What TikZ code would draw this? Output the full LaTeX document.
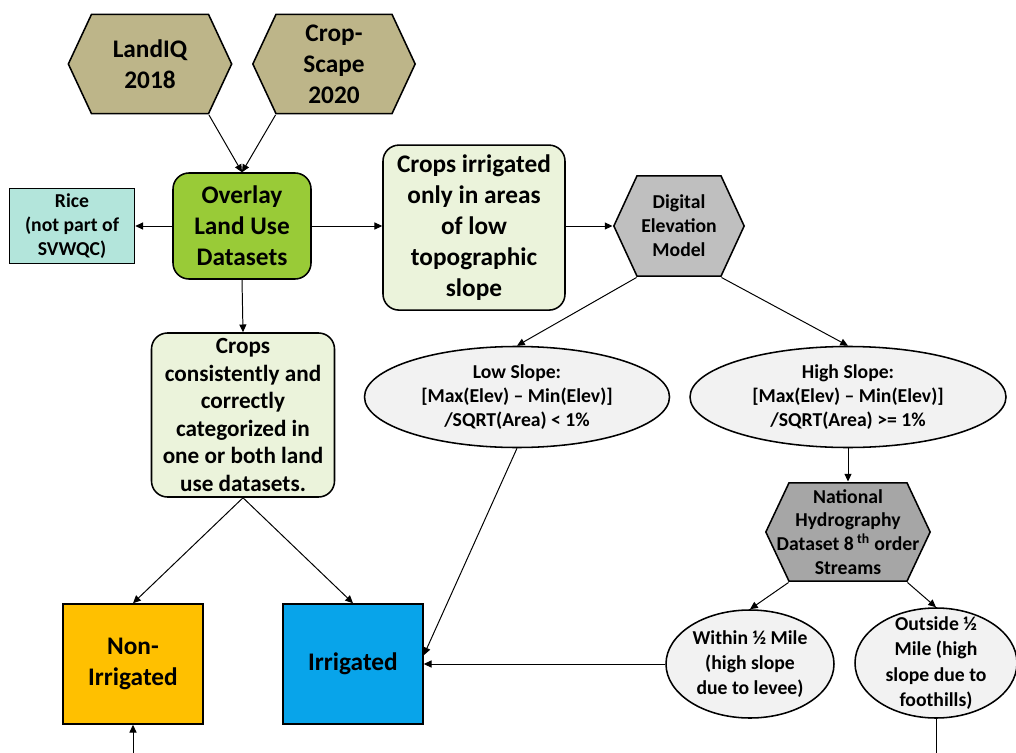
\documentclass[tikz,border=0pt]{standalone}
\usepackage{fontspec}
\setmainfont{Carlito}
\usetikzlibrary{arrows.meta, positioning, shapes.geometric, calc}

\definecolor{hexTan}{RGB}{189,181,137}
\definecolor{limeGreen}{RGB}{153,203,55}
\definecolor{paleGreen}{RGB}{235,243,219}
\definecolor{riceCyan}{RGB}{179,229,219}
\definecolor{demGray}{RGB}{191,191,191}
\definecolor{nhdGray}{RGB}{166,166,166}
\definecolor{ovalGray}{RGB}{242,242,242}
\definecolor{nonIrrOrange}{RGB}{255,192,0}
\definecolor{irrBlue}{RGB}{8,164,234}

\begin{document}
\begin{tikzpicture}[
    >={Triangle[length=5.5pt,width=5pt]},
    line width=0.7pt,
    big/.style={font=\fontsize{18}{22}\selectfont\bfseries},
    small/.style={font=\fontsize{14}{17}\selectfont\bfseries},
    box/.style={draw, line width=1.1pt, align=center, inner sep=2pt, big},
    rbox/.style={box, rounded corners=0.4cm},
    hexa/.style={align=center, inner sep=1pt, big,
      path picture={
        \draw[fill=#1, line width=1.1pt]
          ([xshift=0.6pt]path picture bounding box.west)
          -- ([xshift=0.6cm,yshift=-0.6pt]path picture bounding box.north west)
          -- ([xshift=-0.6cm,yshift=-0.6pt]path picture bounding box.north east)
          -- ([xshift=-0.6pt]path picture bounding box.east)
          -- ([xshift=-0.6cm,yshift=0.6pt]path picture bounding box.south east)
          -- ([xshift=0.6cm,yshift=0.6pt]path picture bounding box.south west)
          -- cycle;}},
    oval/.style={ellipse, draw, line width=1.1pt, fill=ovalGray, align=center,
                 inner sep=0pt, small}
  ]
  \useasboundingbox (0,0) rectangle (25.4,-18.825);

  % land use sources
  \node[hexa=hexTan, minimum width=4.125cm, minimum height=2.525cm]
    (landiq) at (3.75,-1.6) {LandIQ\\2018};
  \node[hexa=hexTan, minimum width=4.1cm, minimum height=2.525cm]
    (cropscape) at (8.35,-1.6) {Crop-\\Scape\\2020};

  % overlay row
  \node[rbox, fill=limeGreen, minimum width=3.45cm, minimum height=2.65cm]
    (overlay) at (6.05,-5.65) {Overlay\\Land Use\\Datasets};
  \node[box, fill=riceCyan, small, minimum width=3.125cm, minimum height=1.875cm]
    (rice) at (1.8,-5.65) {Rice\\(not part of\\SVWQC)};
  \node[rbox, fill=paleGreen, minimum width=4.55cm, minimum height=4.125cm]
    (lowtopo) at (11.85,-5.69)
    {Crops irrigated\\only in areas\\of low\\topographic\\slope};
  \node[hexa=demGray, small, minimum width=3.3cm, minimum height=2.55cm]
    (dem) at (16.975,-5.65) {Digital\\Elevation\\Model};

  \node[rbox, fill=paleGreen, font=\fontsize{16.5}{19.5}\selectfont\bfseries,
        minimum width=4.575cm, minimum height=4.1cm]
    (consistent) at (6.075,-10.375)
    {Crops\\consistently and\\correctly\\categorized in\\one or both land\\use datasets.};

  % slope classes
  \node[oval, minimum width=7.625cm, minimum height=2.525cm]
    (lowslope) at (12.925,-9.925)
    {Low Slope:\\ {[Max(Elev) – Min(Elev)]}\\/SQRT(Area) < 1\%};
  \node[oval, minimum width=7.9cm, minimum height=2.525cm]
    (highslope) at (21.2,-9.925)
    {High Slope:\\ {[Max(Elev) – Min(Elev)]}\\/SQRT(Area) >= 1\%};

  \node[hexa=nhdGray, small, minimum width=4.15cm, minimum height=2.5cm]
    (nhd) at (21.2,-13.3)
    {National\\Hydrography\\Dataset 8\,\textsuperscript{th} order\\Streams};

  \node[oval, font=\fontsize{14}{18}\selectfont\bfseries, inner ysep=-3pt,
        minimum width=4.2cm, minimum height=2.7cm]
    (within) at (18.75,-16.6) {Within ½ Mile\\(high slope\\due to levee)};
  \node[oval, font=\fontsize{14}{18}\selectfont\bfseries, inner ysep=-6pt,
        minimum width=4.05cm, minimum height=2.75cm]
    (outside) at (23.4,-16.575) {Outside ½\\Mile (high\\slope due to\\foothills)};

  % results
  \node[box, fill=nonIrrOrange, minimum width=3.5cm, minimum height=3cm]
    (nonirr) at (3.325,-16.6) {Non-\\Irrigated};
  \node[box, fill=irrBlue, minimum width=3.5cm, minimum height=3cm]
    (irr) at (8.825,-16.6) {Irrigated};

  \coordinate (feed) at (3.325,-19.1);

  % connectors
  \draw[->] ([xshift=-0.6cm]landiq.south east) -- (overlay.north);
  \draw[->] ([xshift=0.6cm]cropscape.south west) -- (overlay.north);
  \draw[->] (overlay.west) -- (rice.east);
  \draw[->] (overlay.east) -- (overlay.east -| lowtopo.west);
  \draw[->] (overlay.south) -- (consistent.north);
  \draw[->] (lowtopo.east |- dem.west) -- (dem.west);
  \draw[->] ([xshift=0.6cm]dem.south west) -- (lowslope.north);
  \draw[->] ([xshift=-0.6cm]dem.south east) -- (highslope.north);
  \draw[->] (highslope.south) -- (nhd.north);
  \draw[->] ([xshift=0.6cm]nhd.south west) -- (within.north);
  \draw[->] ([xshift=-0.6cm]nhd.south east) -- (outside.north);
  \draw[->] (consistent.south) -- (nonirr.north);
  \draw[->] (consistent.south) -- (irr.north);
  \draw[->] (lowslope.south) -- ([yshift=0.22cm]irr.east);
  \draw[->] (within.west) -- (irr.east);
  \draw[->] (feed) -- (nonirr.south);
  \draw (outside.south) -- (outside.south |- feed);
\end{tikzpicture}
\end{document}
